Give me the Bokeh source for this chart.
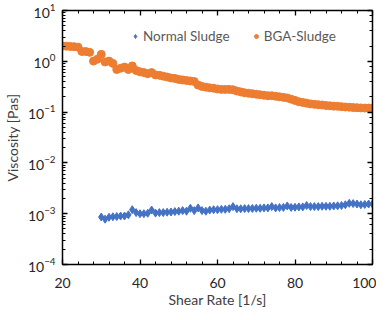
from bokeh.plotting import figure
from bokeh.models import (Range1d, LinearAxis, LogAxis, Legend, LegendItem,
                          SingleIntervalTicker, CustomJSTickFormatter)
from bokeh.embed import file_html
from bokeh.resources import INLINE

# ---- data ----
bga_x = list(range(20, 101))
bga_y = [2.00, 1.98, 1.96, 1.94, 1.90, 1.56, 1.56, 1.50, 1.01, 1.10,
         1.37, 0.97, 1.01, 0.91, 0.69, 0.73, 0.77, 0.69, 0.81, 0.66,
         0.62, 0.60, 0.57, 0.60, 0.54, 0.53, 0.51, 0.49, 0.47, 0.46,
         0.44, 0.43, 0.42, 0.41, 0.40, 0.34, 0.32, 0.31, 0.30, 0.295,
         0.285, 0.28, 0.28, 0.28, 0.275, 0.26, 0.25, 0.24, 0.235, 0.23,
         0.225, 0.22, 0.215, 0.21, 0.21, 0.205, 0.20, 0.195, 0.19, 0.18,
         0.17, 0.16, 0.155, 0.15, 0.145, 0.142, 0.14, 0.138, 0.135, 0.133,
         0.131, 0.13, 0.128, 0.126, 0.125, 0.123, 0.122, 0.121, 0.12, 0.12,
         0.12]
normal_x = list(range(30, 101))
normal_y = [8.6e-4, 7.8e-4, 8.5e-4, 8.7e-4, 8.8e-4, 9.0e-4, 9.0e-4, 9.5e-4, 1.2e-3, 1.05e-3,
            1.0e-3, 1.0e-3, 1.02e-3, 1.18e-3, 1.03e-3, 1.05e-3, 1.05e-3, 1.07e-3, 1.08e-3, 1.1e-3,
            1.12e-3, 1.15e-3, 1.12e-3, 1.28e-3, 1.15e-3, 1.3e-3, 1.15e-3, 1.12e-3, 1.18e-3, 1.2e-3,
            1.2e-3, 1.22e-3, 1.22e-3, 1.25e-3, 1.38e-3, 1.25e-3, 1.25e-3, 1.26e-3, 1.26e-3, 1.27e-3,
            1.28e-3, 1.28e-3, 1.3e-3, 1.3e-3, 1.38e-3, 1.3e-3, 1.32e-3, 1.33e-3, 1.42e-3, 1.33e-3,
            1.34e-3, 1.36e-3, 1.36e-3, 1.45e-3, 1.38e-3, 1.38e-3, 1.38e-3, 1.4e-3, 1.4e-3, 1.4e-3,
            1.42e-3, 1.43e-3, 1.45e-3, 1.5e-3, 1.6e-3, 1.58e-3, 1.55e-3, 1.5e-3, 1.52e-3, 1.55e-3,
            1.55e-3]
series_names = ["Normal Sludge", "BGA-Sludge"]
x_label = "Shear Rate [1/s]"
y_label = "Viscosity [Pas]"

FONT = "Lato"
BLUE = "#4472C4"
ORANGE = "#ED7D31"

p = figure(frame_width=310, frame_height=254, output_backend="svg", toolbar_location=None,
           y_axis_type="log", x_range=Range1d(20, 100), y_range=Range1d(1e-4, 10),
           min_border_left=55, min_border_right=4, min_border_top=10, min_border_bottom=45)
p.grid.visible = False
p.outline_line_color = None
p.background_fill_color = "white"

r_norm = p.scatter(normal_x, normal_y, marker="diamond", size=8, color=BLUE)
r_bga = p.scatter(bga_x, bga_y, marker="circle", size=8, color=ORANGE)

def style(ax):
    ax.axis_line_color = "black"
    ax.axis_line_width = 1.5
    ax.major_tick_line_color = "black"
    ax.minor_tick_line_color = "black"
    ax.major_tick_line_width = 1.3
    ax.minor_tick_line_width = 1
    ax.major_tick_in = 5
    ax.major_tick_out = 0
    ax.minor_tick_in = 3
    ax.minor_tick_out = 0
    ax.major_label_text_font = FONT
    ax.major_label_text_font_size = "14px"
    ax.major_label_text_color = "#262626"
    ax.axis_label_text_font = FONT
    ax.axis_label_text_font_size = "14px"
    ax.axis_label_text_font_style = "normal"
    ax.axis_label_text_color = "#404040"

xb = p.xaxis[0]
style(xb)
xb.ticker = SingleIntervalTicker(interval=20, num_minor_ticks=5)
xb.axis_label = x_label
xb.major_label_standoff = 13
xb.axis_label_standoff = 0

yl = p.yaxis[0]
style(yl)
yl.axis_label = y_label
yl.major_label_standoff = 7
yl.axis_label_standoff = 4

blank = CustomJSTickFormatter(code="return ''")
xt = LinearAxis(ticker=SingleIntervalTicker(interval=20, num_minor_ticks=5), formatter=blank)
style(xt)
xt.major_label_text_font_size = "1px"
xt.major_label_standoff = 0
p.add_layout(xt, "above")
yr = LogAxis(formatter=blank)
style(yr)
yr.major_label_text_font_size = "1px"
yr.major_label_standoff = 0
p.add_layout(yr, "right")

legend = Legend(items=[LegendItem(label=series_names[0], renderers=[r_norm]),
                       LegendItem(label=series_names[1], renderers=[r_bga])],
                orientation="horizontal", location=(68, 218))
legend.background_fill_alpha = 0
legend.border_line_color = None
legend.label_text_font = FONT
legend.label_text_font_size = "13.5px"
legend.label_text_color = "#595959"
legend.glyph_width = 10
legend.label_standoff = 3
legend.spacing = 21
legend.padding = 2
legend.margin = 0
p.add_layout(legend, "center")

open("out.html", "w").write(file_html(p, INLINE))
